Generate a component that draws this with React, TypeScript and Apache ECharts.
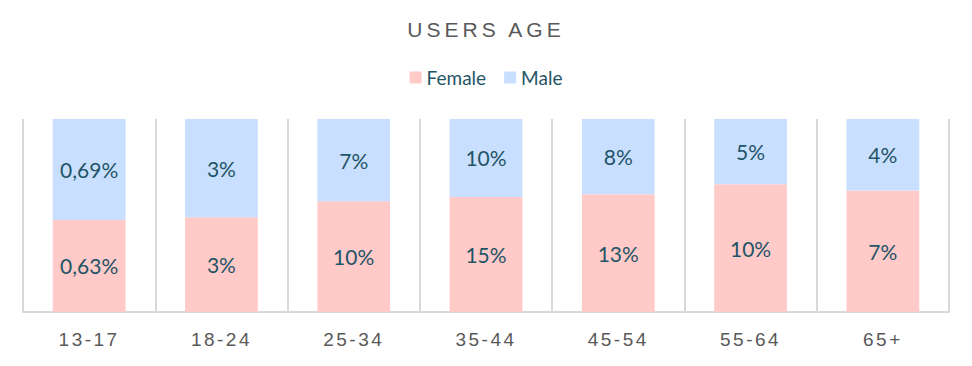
import React, { useEffect, useRef } from "react";
import * as echarts from "echarts";

const categories = ["13-17", "18-24", "25-34", "35-44", "45-54", "55-64", "65+"];
const femaleValues = [0.63, 2.9, 9.7, 14.6, 12.8, 10.2, 7.3];
const maleValues = [0.69, 3.0, 7.2, 9.9, 8.2, 5.2, 4.3];
const femaleLabels = ["0,63%", "3%", "10%", "15%", "13%", "10%", "7%"];
const maleLabels = ["0,69%", "3%", "7%", "10%", "8%", "5%", "4%"];
const titleText = "USERS AGE";

const labelColor = "#1F5466";

export default function App() {
  const ref = useRef<HTMLDivElement>(null);
  useEffect(() => {
    if (!ref.current) return;
    const el = ref.current;
    const chart = echarts.init(el, undefined, { renderer: "svg" });
    const totals = femaleValues.map((f, i) => f + maleValues[i]);
    const femaleShare = femaleValues.map((f, i) => f / totals[i]);
    const maleShare = maleValues.map((m, i) => m / totals[i]);

    const applySpacing = () => {
      el.querySelectorAll("text").forEach((t) => {
        const s = (t.textContent || "").trim();
        if (s === titleText) {
          t.setAttribute("letter-spacing", "4");
        } else if (categories.indexOf(s) >= 0) {
          t.setAttribute("letter-spacing", "2.5");
        }
      });
    };
    chart.on("finished", applySpacing);

    chart.setOption({
      animation: false,
      title: {
        text: titleText,
        left: "center",
        top: 14,
        textStyle: {
          fontFamily: "Liberation Sans",
          fontSize: 21,
          fontWeight: "normal",
          color: "#595959",
        },
      },
      legend: {
        top: 63,
        left: "center",
        itemWidth: 12,
        itemHeight: 12,
        itemGap: 18,
        icon: "rect",
        textStyle: { fontFamily: "Lato", fontSize: 19, color: labelColor },
        data: ["Female", "Male"],
      },
      grid: { left: 23, right: 23, top: 119, bottom: 54 },
      xAxis: {
        type: "category",
        data: categories,
        axisLine: { lineStyle: { color: "#d9d9d9", width: 2 } },
        axisTick: { show: false },
        splitLine: { show: true, lineStyle: { color: "#d9d9d9", width: 2 } },
        axisLabel: {
          fontFamily: "Liberation Sans",
          fontSize: 19,
          color: "#595959",
          margin: 18,
        },
      },
      yAxis: {
        type: "value",
        min: 0,
        max: 1,
        show: false,
        splitLine: { show: false },
      },
      series: [
        {
          name: "Female",
          type: "bar",
          stack: "total",
          barWidth: "55%",
          data: femaleShare,
          itemStyle: { color: "#FFCAC8" },
          label: {
            show: true,
            position: "inside",
            fontFamily: "Lato",
            fontSize: 21,
            color: labelColor,
            formatter: (p: any) => femaleLabels[p.dataIndex],
          },
        },
        {
          name: "Male",
          type: "bar",
          stack: "total",
          barWidth: "55%",
          data: maleShare,
          itemStyle: { color: "#C9DFFF" },
          label: {
            show: true,
            position: "inside",
            fontFamily: "Lato",
            fontSize: 21,
            color: labelColor,
            formatter: (p: any) => maleLabels[p.dataIndex],
          },
        },
      ],
    });
    applySpacing();
    return () => chart.dispose();
  }, []);
  return (
    <div
      ref={ref}
      style={{ position: "absolute", left: 0, top: 0, width: 972, height: 366 }}
    />
  );
}
